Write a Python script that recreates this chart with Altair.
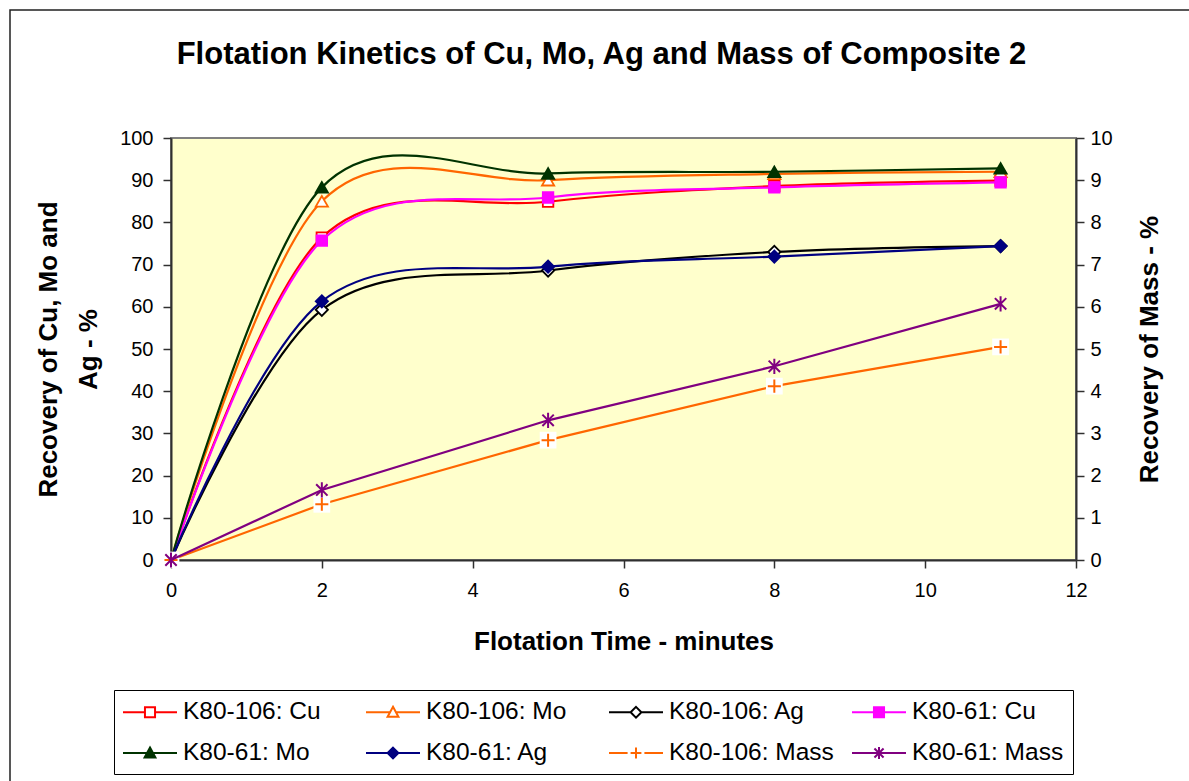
import altair as alt
import pandas as pd

# ---------------- data ----------------
time_min = [0, 2, 5, 8, 11]

series_names = [
    "K80-106: Cu", "K80-106: Mo", "K80-106: Ag", "K80-61: Cu",
    "K80-61: Mo", "K80-61: Ag", "K80-106: Mass", "K80-61: Mass",
]
k106_cu = [0, 76.4, 84.9, 88.6, 89.9]
k106_mo = [0, 85.0, 90.0, 91.5, 92.0]
k106_ag = [0, 59.3, 68.6, 73.0, 74.4]
k61_cu = [0, 75.7, 85.9, 88.3, 89.5]
k61_mo = [0, 88.3, 91.6, 92.0, 92.8]
k61_ag = [0, 61.3, 69.5, 71.9, 74.4]
k106_mass = [0, 1.32, 2.84, 4.12, 5.05]
k61_mass = [0, 1.66, 3.31, 4.59, 6.07]

x_ticks = [0, 2, 4, 6, 8, 10, 12]
left_ticks = [0, 10, 20, 30, 40, 50, 60, 70, 80, 90, 100]
right_ticks = [0, 1, 2, 3, 4, 5, 6, 7, 8, 9, 10]

# ---------------- styles ----------------
FONT = "Liberation Sans"
colors = ["#FF0000", "#FF6600", "#000000", "#FF00FF",
          "#003300", "#000080", "#FF6600", "#800080"]
fills = ["#FFFFFF", "#FFFFFF", "#FFFFFF", "#FF00FF",
         "#003300", "#000080", "#FFFFFF", "#800080"]

PLUS = "M-1,0L1,0M0,-1L0,1"
STAR = "M-0.75,-0.75L0.75,0.75M-0.75,0.75L0.75,-0.75M0,-1L0,1"
plot_shapes = ["square", "triangle-up", "diamond", "square",
               "triangle-up", "diamond", PLUS, STAR]
plot_sizes = [110, 150, 150, 110, 150, 150, 170, 230]

# legend symbols: a 54 px line with the marker in its middle (unit = 12 px)
legend_shapes = [
    "M-2.25,0L-0.42,0M0.42,0L2.25,0M-0.42,-0.42L0.42,-0.42L0.42,0.42L-0.42,0.42Z",
    "M-2.25,0L-0.25,0M0.25,0L2.25,0M0,-0.45L0.45,0.38L-0.45,0.38Z",
    "M-2.25,0L-0.45,0M0.45,0L2.25,0M0,-0.45L0.45,0L0,0.45L-0.45,0Z",
    "M-2.25,0L-0.42,0M0.42,0L2.25,0M-0.42,-0.42L0.42,-0.42L0.42,0.42L-0.42,0.42Z",
    "M-2.25,0L-0.25,0M0.25,0L2.25,0M0,-0.45L0.45,0.38L-0.45,0.38Z",
    "M-2.25,0L-0.45,0M0.45,0L2.25,0M0,-0.45L0.45,0L0,0.45L-0.45,0Z",
    "M-2.25,0L-0.7,0M0.7,0L2.25,0M-0.45,0L0.45,0M0,-0.45L0,0.45",
    "M-2.25,0L2.25,0M-0.38,-0.38L0.38,0.38M-0.38,0.38L0.38,-0.38M0,-0.5L0,0.5",
]

x_scale = alt.Scale(domain=[0, 12], nice=False, zero=False)
yl_scale = alt.Scale(domain=[0, 100], nice=False)
yr_scale = alt.Scale(domain=[0, 10], nice=False)

x_axis = alt.Axis(values=x_ticks, title="Flotation Time - minutes",
                  labelFlush=False, labelPadding=12, titlePadding=28)
yl_axis = alt.Axis(values=left_ticks, orient="left",
                   title=["Recovery of Cu, Mo and", "Ag - %"], labelFlush=False,
                   labelPadding=10, titlePadding=18, titleLineHeight=40)
yr_axis = alt.Axis(values=right_ticks, orient="right",
                   title="Recovery of Mass - %", titleAngle=270, labelFlush=False,
                   labelPadding=6, titlePadding=50)

left_values = [k106_cu, k106_mo, k106_ag, k61_cu, k61_mo, k61_ag]
right_values = [k106_mass, k61_mass]


def series_layers(i, vals, field, y_scale, y_axis, smooth):
    d = pd.DataFrame({"time": time_min, field: vals, "series": series_names[i]})
    base = alt.Chart(d)
    enc = dict(x=alt.X("time:Q", scale=x_scale, axis=x_axis),
               y=alt.Y(f"{field}:Q", scale=y_scale, axis=y_axis))
    line_kw = dict(color=colors[i], strokeWidth=2.2)
    if smooth:
        line_kw["interpolate"] = "cardinal"
    layers = [base.mark_line(**line_kw).encode(**enc)]
    if plot_shapes[i] == PLUS:
        layers.append(base.mark_square(color="white", size=280, opacity=1,
                                       filled=True).encode(**enc))
    if plot_shapes[i] in (PLUS, STAR):
        layers.append(base.mark_point(shape=plot_shapes[i], filled=False,
                                      stroke=colors[i], strokeWidth=2,
                                      size=plot_sizes[i], opacity=1).encode(**enc))
    else:
        layers.append(base.mark_point(shape=plot_shapes[i], filled=True,
                                      fill=fills[i], stroke=colors[i],
                                      strokeWidth=1.8, size=plot_sizes[i],
                                      opacity=1).encode(**enc))
    return layers


# outer chart-area frame (decoration, pixel values relative to plot origin)
frame = alt.Chart(pd.DataFrame({"k": [0]})).mark_rect(
    filled=False, stroke="#202020", strokeWidth=1.5
).encode(x=alt.value(-161), x2=alt.value(1030), y=alt.value(-128), y2=alt.value(660))

left_layers = [frame]
for i, vals in enumerate(left_values):
    left_layers += series_layers(i, vals, "recovery", yl_scale, yl_axis, True)

legend = alt.Legend(
    title=None, orient="none", legendX=-57, legendY=552, columns=4,
    direction="horizontal", gridAlign="all", columnPadding=14, rowPadding=16,
    padding=9, strokeColor="#000000", fillColor="#FFFFFF",
    labelFont=FONT, labelFontSize=24.5, labelColor="#000000", labelLimit=400,
    labelOffset=20, symbolOffset=14, symbolSize=576, symbolStrokeWidth=2,
)
legend_df = pd.DataFrame({"time": [0] * 8, "recovery": [0] * 8, "series": series_names})
legend_layer = alt.Chart(legend_df).transform_filter("false").mark_point(
    filled=True, opacity=1
).encode(
    x=alt.X("time:Q", scale=x_scale, axis=x_axis),
    y=alt.Y("recovery:Q", scale=yl_scale, axis=yl_axis),
    stroke=alt.Stroke("series:N", scale=alt.Scale(domain=series_names, range=colors), legend=legend),
    fill=alt.Fill("series:N", scale=alt.Scale(domain=series_names, range=fills), legend=legend),
    shape=alt.Shape("series:N", scale=alt.Scale(domain=series_names, range=legend_shapes), legend=legend),
)
left_layers.append(legend_layer)

right_layers = []
for j, vals in enumerate(right_values):
    right_layers += series_layers(6 + j, vals, "mass", yr_scale, yr_axis, False)

left = alt.layer(*left_layers)
right = alt.layer(*right_layers)

chart = alt.layer(left, right).resolve_scale(y="independent").properties(
    width=905, height=422,
    padding={"left": 171, "top": 138, "right": 113, "bottom": 221},
    autosize=alt.AutoSizeParams(type="none"),
    title=alt.TitleParams(
        "Flotation Kinetics of Cu, Mo, Ag and Mass of Composite 2",
        font=FONT, fontSize=31, fontWeight="bold", color="#000000",
        anchor="middle", frame="group", offset=-62, dx=-22,
    ),
).configure(background="white").configure_view(
    fill="#FFFFCC", stroke="#808080", strokeWidth=2
).configure_axis(
    grid=False, domainColor="#303030", domainWidth=2, tickColor="#303030",
    tickWidth=1.5, tickSize=8, labelFont=FONT, labelFontSize=20,
    labelColor="#000000", titleFont=FONT, titleFontSize=26,
    titleFontWeight="bold", titleColor="#000000",
)

chart.save("out.html", embed_options={"renderer": "svg", "actions": False})
